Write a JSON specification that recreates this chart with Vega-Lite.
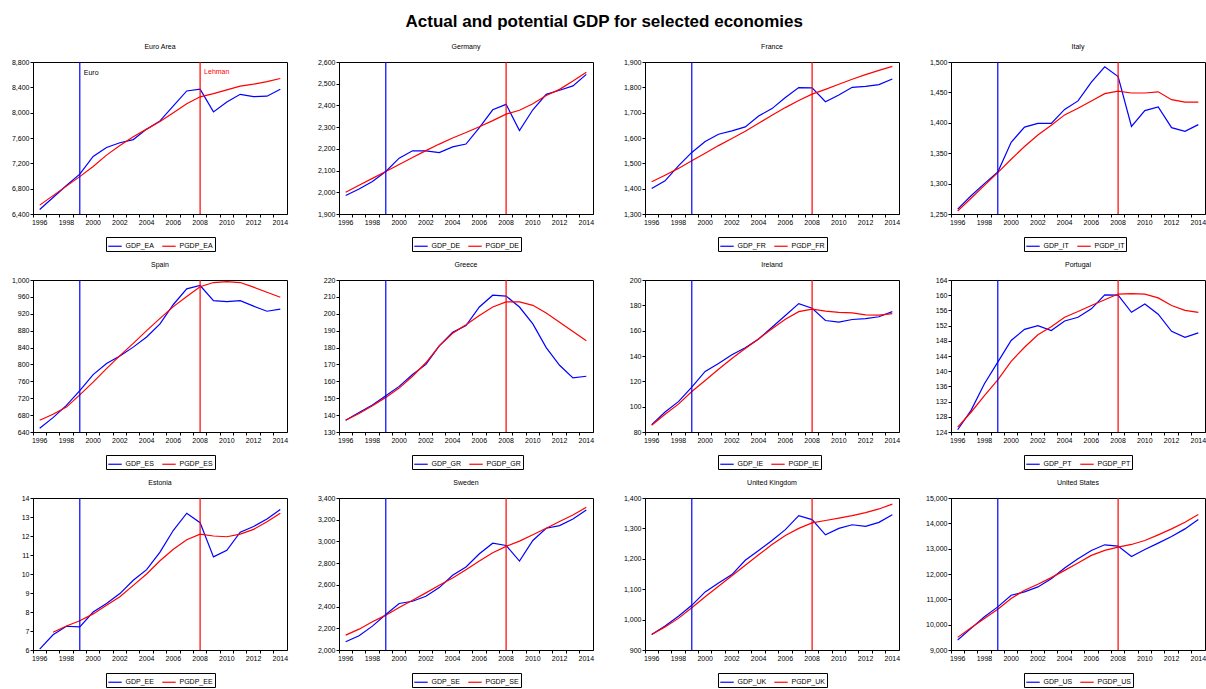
{
"$schema": "https://vega.github.io/schema/vega-lite/v6.json",
"padding": {"left": 2, "top": 12, "right": 0, "bottom": 0},
"title": {"text": "Actual and potential GDP for selected economies", "fontSize": 17, "fontWeight": "bold", "font": "Liberation Sans", "anchor": "middle", "offset": 12, "color": "#000000"},
"data": {"values": [
{"year":1996,"GDP_EA":6470,"PGDP_EA":6540,"GDP_DE":1985,"PGDP_DE":2000,"GDP_FR":1401,"PGDP_FR":1427,"GDP_IT":1258,"PGDP_IT":1255,"GDP_ES":649,"PGDP_ES":668,"GDP_GR":137,"PGDP_GR":137,"GDP_IE":85.8,"PGDP_IE":85.3,"GDP_PT":124.6,"PGDP_PT":125.3,"GDP_EE":6.05,"PGDP_EE":null,"GDP_SE":2076,"PGDP_SE":2137,"GDP_UK":951,"PGDP_UK":951,"GDP_US":9393,"PGDP_US":9498},
{"year":1997,"GDP_EA":6660,"PGDP_EA":6690,"GDP_DE":2015,"PGDP_DE":2032,"GDP_FR":1431,"PGDP_FR":1453,"GDP_IT":1280,"PGDP_IT":1276,"GDP_ES":674,"PGDP_ES":682,"GDP_GR":141.5,"PGDP_GR":141,"GDP_IE":95.8,"PGDP_IE":94,"GDP_PT":129.7,"PGDP_PT":129.2,"GDP_EE":6.8,"PGDP_EE":6.93,"GDP_SE":2131,"PGDP_SE":2192,"GDP_UK":979,"PGDP_UK":976,"GDP_US":9852,"PGDP_US":9878},
{"year":1998,"GDP_EA":6850,"PGDP_EA":6840,"GDP_DE":2050,"PGDP_DE":2064,"GDP_FR":1490,"PGDP_FR":1480,"GDP_IT":1300,"PGDP_IT":1297,"GDP_ES":703,"PGDP_ES":699,"GDP_GR":146,"PGDP_GR":145.5,"GDP_IE":104,"PGDP_IE":102,"GDP_PT":136.7,"PGDP_PT":133.6,"GDP_EE":7.25,"PGDP_EE":7.26,"GDP_SE":2220,"PGDP_SE":2260,"GDP_UK":1011,"PGDP_UK":1004,"GDP_US":10310,"PGDP_US":10245},
{"year":1999,"GDP_EA":7030,"PGDP_EA":6990,"GDP_DE":2096,"PGDP_DE":2096,"GDP_FR":1543,"PGDP_FR":1510,"GDP_IT":1319,"PGDP_IT":1318,"GDP_ES":738,"PGDP_ES":728,"GDP_GR":151.5,"PGDP_GR":150.5,"GDP_IE":115.5,"PGDP_IE":112,"GDP_PT":142.4,"PGDP_PT":137.7,"GDP_EE":7.22,"PGDP_EE":7.54,"GDP_SE":2327,"PGDP_SE":2321,"GDP_UK":1047,"PGDP_UK":1039,"GDP_US":10703,"PGDP_US":10611},
{"year":2000,"GDP_EA":7308,"PGDP_EA":7150,"GDP_DE":2157,"PGDP_DE":2128,"GDP_FR":1586,"PGDP_FR":1540,"GDP_IT":1368,"PGDP_IT":1340,"GDP_ES":776,"PGDP_ES":758,"GDP_GR":157,"PGDP_GR":156,"GDP_IE":127.8,"PGDP_IE":120.7,"GDP_PT":148.1,"PGDP_PT":142.6,"GDP_EE":8.0,"PGDP_EE":7.9,"GDP_SE":2428,"PGDP_SE":2391,"GDP_UK":1091,"PGDP_UK":1075,"GDP_US":11162,"PGDP_US":11030},
{"year":2001,"GDP_EA":7450,"PGDP_EA":7330,"GDP_DE":2191,"PGDP_DE":2160,"GDP_FR":1615,"PGDP_FR":1570,"GDP_IT":1393,"PGDP_IT":1361,"GDP_ES":802,"PGDP_ES":790,"GDP_GR":164,"PGDP_GR":163,"GDP_IE":134,"PGDP_IE":129.5,"GDP_PT":151,"PGDP_PT":146.3,"GDP_EE":8.45,"PGDP_EE":8.35,"GDP_SE":2449,"PGDP_SE":2458,"GDP_UK":1120,"PGDP_UK":1110,"GDP_US":11293,"PGDP_US":11358},
{"year":2002,"GDP_EA":7525,"PGDP_EA":7480,"GDP_DE":2191,"PGDP_DE":2192,"GDP_FR":1628,"PGDP_FR":1598,"GDP_IT":1399,"PGDP_IT":1380,"GDP_ES":820,"PGDP_ES":821,"GDP_GR":170,"PGDP_GR":171,"GDP_IE":141,"PGDP_IE":138,"GDP_PT":152,"PGDP_PT":149.6,"GDP_EE":8.97,"PGDP_EE":8.8,"GDP_SE":2495,"PGDP_SE":2526,"GDP_UK":1148,"PGDP_UK":1144,"GDP_US":11490,"PGDP_US":11594},
{"year":2003,"GDP_EA":7575,"PGDP_EA":7620,"GDP_DE":2183,"PGDP_DE":2222,"GDP_FR":1644,"PGDP_FR":1627,"GDP_IT":1399,"PGDP_IT":1396,"GDP_ES":841,"PGDP_ES":850,"GDP_GR":181,"PGDP_GR":181,"GDP_IE":146.5,"PGDP_IE":146,"GDP_PT":150.7,"PGDP_PT":151.7,"GDP_EE":9.67,"PGDP_EE":9.4,"GDP_SE":2575,"PGDP_SE":2596,"GDP_UK":1195,"PGDP_UK":1179,"GDP_US":11817,"PGDP_US":11856},
{"year":2004,"GDP_EA":7740,"PGDP_EA":7740,"GDP_DE":2209,"PGDP_DE":2250,"GDP_FR":1687,"PGDP_FR":1658,"GDP_IT":1422,"PGDP_IT":1413,"GDP_ES":865,"PGDP_ES":880,"GDP_GR":189,"PGDP_GR":188.5,"GDP_IE":153.5,"PGDP_IE":153.5,"GDP_PT":153.2,"PGDP_PT":154.2,"GDP_EE":10.23,"PGDP_EE":10.0,"GDP_SE":2688,"PGDP_SE":2663,"GDP_UK":1227,"PGDP_UK":1213,"GDP_US":12236,"PGDP_US":12144},
{"year":2005,"GDP_EA":7870,"PGDP_EA":7860,"GDP_DE":2222,"PGDP_DE":2275,"GDP_FR":1716,"PGDP_FR":1690,"GDP_IT":1436,"PGDP_IT":1424,"GDP_ES":896,"PGDP_ES":909,"GDP_GR":193,"PGDP_GR":193.5,"GDP_IE":162.7,"PGDP_IE":161.5,"GDP_PT":154.2,"PGDP_PT":155.7,"GDP_EE":11.15,"PGDP_EE":10.7,"GDP_SE":2764,"PGDP_SE":2740,"GDP_UK":1260,"PGDP_UK":1247,"GDP_US":12603,"PGDP_US":12432},
{"year":2006,"GDP_EA":8106,"PGDP_EA":8000,"GDP_DE":2298,"PGDP_DE":2302,"GDP_FR":1760,"PGDP_FR":1720,"GDP_IT":1467,"PGDP_IT":1436,"GDP_ES":942,"PGDP_ES":937,"GDP_GR":204,"PGDP_GR":199,"GDP_IE":172,"PGDP_IE":169,"GDP_PT":156.4,"PGDP_PT":157.3,"GDP_EE":12.3,"PGDP_EE":11.3,"GDP_SE":2886,"PGDP_SE":2819,"GDP_UK":1296,"PGDP_UK":1277,"GDP_US":12930,"PGDP_US":12734},
{"year":2007,"GDP_EA":8343,"PGDP_EA":8140,"GDP_DE":2380,"PGDP_DE":2330,"GDP_FR":1799,"PGDP_FR":1748,"GDP_IT":1492,"PGDP_IT":1448,"GDP_ES":979,"PGDP_ES":961,"GDP_GR":211,"PGDP_GR":204,"GDP_IE":181.4,"PGDP_IE":175,"GDP_PT":160.1,"PGDP_PT":158.8,"GDP_EE":13.2,"PGDP_EE":11.8,"GDP_SE":2984,"PGDP_SE":2896,"GDP_UK":1342,"PGDP_UK":1300,"GDP_US":13153,"PGDP_US":12930},
{"year":2008,"GDP_EA":8370,"PGDP_EA":8250,"GDP_DE":2405,"PGDP_DE":2360,"GDP_FR":1798,"PGDP_FR":1773,"GDP_IT":1476,"PGDP_IT":1452,"GDP_ES":987,"PGDP_ES":984,"GDP_GR":210.5,"PGDP_GR":207,"GDP_IE":177.7,"PGDP_IE":177,"GDP_PT":160,"PGDP_PT":160.3,"GDP_EE":12.7,"PGDP_EE":12.1,"GDP_SE":2963,"PGDP_SE":2954,"GDP_UK":1329,"PGDP_UK":1318,"GDP_US":13100,"PGDP_US":13061},
{"year":2009,"GDP_EA":8012,"PGDP_EA":8300,"GDP_DE":2284,"PGDP_DE":2378,"GDP_FR":1743,"PGDP_FR":1792,"GDP_IT":1394,"PGDP_IT":1449,"GDP_ES":951,"PGDP_ES":994,"GDP_GR":204,"PGDP_GR":207,"GDP_IE":168,"PGDP_IE":175.5,"GDP_PT":155.5,"PGDP_PT":160.4,"GDP_EE":10.9,"PGDP_EE":12.0,"GDP_SE":2819,"PGDP_SE":3003,"GDP_UK":1279,"PGDP_UK":1326,"GDP_US":12694,"PGDP_US":13166},
{"year":2010,"GDP_EA":8170,"PGDP_EA":8360,"GDP_DE":2380,"PGDP_DE":2408,"GDP_FR":1770,"PGDP_FR":1812,"GDP_IT":1420,"PGDP_IT":1449,"GDP_ES":949,"PGDP_ES":996,"GDP_GR":194,"PGDP_GR":205,"GDP_IE":166.7,"PGDP_IE":174.5,"GDP_PT":157.7,"PGDP_PT":160.3,"GDP_EE":11.25,"PGDP_EE":11.96,"GDP_SE":3009,"PGDP_SE":3061,"GDP_UK":1300,"PGDP_UK":1334,"GDP_US":12970,"PGDP_US":13323},
{"year":2011,"GDP_EA":8290,"PGDP_EA":8420,"GDP_DE":2451,"PGDP_DE":2446,"GDP_FR":1800,"PGDP_FR":1832,"GDP_IT":1426,"PGDP_IT":1451,"GDP_ES":951,"PGDP_ES":994,"GDP_GR":180,"PGDP_GR":200.5,"GDP_IE":168.8,"PGDP_IE":174,"GDP_PT":155,"PGDP_PT":159.3,"GDP_EE":12.2,"PGDP_EE":12.1,"GDP_SE":3122,"PGDP_SE":3122,"GDP_UK":1312,"PGDP_UK":1342,"GDP_US":13218,"PGDP_US":13546},
{"year":2012,"GDP_EA":8253,"PGDP_EA":8450,"GDP_DE":2470,"PGDP_DE":2474,"GDP_FR":1804,"PGDP_FR":1850,"GDP_IT":1392,"PGDP_IT":1438,"GDP_ES":938,"PGDP_ES":983,"GDP_GR":169.5,"PGDP_GR":195,"GDP_IE":169.5,"PGDP_IE":172.5,"GDP_PT":150.5,"PGDP_PT":157.3,"GDP_EE":12.5,"PGDP_EE":12.35,"GDP_SE":3146,"PGDP_SE":3183,"GDP_UK":1307,"PGDP_UK":1352,"GDP_US":13480,"PGDP_US":13781},
{"year":2013,"GDP_EA":8260,"PGDP_EA":8490,"GDP_DE":2490,"PGDP_DE":2512,"GDP_FR":1811,"PGDP_FR":1867,"GDP_IT":1386,"PGDP_IT":1434,"GDP_ES":926,"PGDP_ES":971,"GDP_GR":162,"PGDP_GR":189.5,"GDP_IE":171,"PGDP_IE":172.3,"GDP_PT":148.9,"PGDP_PT":156,"GDP_EE":12.9,"PGDP_EE":12.75,"GDP_SE":3207,"PGDP_SE":3244,"GDP_UK":1320,"PGDP_UK":1364,"GDP_US":13781,"PGDP_US":14043},
{"year":2014,"GDP_EA":8370,"PGDP_EA":8540,"GDP_DE":2543,"PGDP_DE":2553,"GDP_FR":1833,"PGDP_FR":1883,"GDP_IT":1397,"PGDP_IT":1434,"GDP_ES":931,"PGDP_ES":959,"GDP_GR":163,"PGDP_GR":184,"GDP_IE":175,"PGDP_IE":173.5,"GDP_PT":150.1,"PGDP_PT":155.5,"GDP_EE":13.4,"PGDP_EE":13.2,"GDP_SE":3290,"PGDP_SE":3314,"GDP_UK":1345,"PGDP_UK":1380,"GDP_US":14148,"PGDP_US":14345}
]},
"columns": 4,
"spacing": {"row": 8, "column": 19},
"resolve": {"scale": {"color": "independent"}, "legend": {"color": "independent"}},
"concat": [
{"title": "Euro Area", "width": 254, "height": 152,
 "encoding": {"x": {"field": "year", "type": "ordinal", "title": null, "scale": {"type": "band", "paddingInner": 0, "paddingOuter": 0}}},
 "layer": [
  {"transform": [{"fold": ["GDP_EA", "PGDP_EA"], "as": ["series", "value"]}], "mark": "line",
   "encoding": {"y": {"field": "value", "type": "quantitative", "title": null, "scale": {"domain": [6400, 8800], "zero": false, "nice": false}, "axis": {"format": ",.0f", "values": [6400, 6800, 7200, 7600, 8000, 8400, 8800]}},
    "color": {"field": "series", "type": "nominal", "title": null, "scale": {"domain": ["GDP_EA", "PGDP_EA"], "range": ["#0000ff", "#ff0000"]}}}},
  {"data": {"values": [{"year": 1999}, {"year": 2008}]}, "mark": "rule",
   "encoding": {"color": {"condition": {"test": "datum.year == 1999", "value": "#0000ff"}, "value": "#ff0000"}}},
  {"data": {"values": [{"year": 1999, "t": "Euro", "value": 8630}, {"year": 2008, "t": "Lehman", "value": 8650}]}, "mark": {"type": "text", "align": "left", "dx": 4, "fontSize": 7, "font": "Liberation Sans"},
   "encoding": {"y": {"field": "value", "type": "quantitative", "title": null, "axis": {"format": ",.0f", "values": [6400, 6800, 7200, 7600, 8000, 8400, 8800]}}, "text": {"field": "t"}, "color": {"condition": {"test": "datum.t == 'Lehman'", "value": "#ff0000"}, "value": "#000000"}}}
 ]},
{"title": "Germany", "width": 254, "height": 152,
 "encoding": {"x": {"field": "year", "type": "ordinal", "title": null, "scale": {"type": "band", "paddingInner": 0, "paddingOuter": 0}}},
 "layer": [
  {"transform": [{"fold": ["GDP_DE", "PGDP_DE"], "as": ["series", "value"]}], "mark": "line",
   "encoding": {"y": {"field": "value", "type": "quantitative", "title": null, "scale": {"domain": [1900, 2600], "zero": false, "nice": false}, "axis": {"format": ",.0f", "values": [1900, 2000, 2100, 2200, 2300, 2400, 2500, 2600]}},
    "color": {"field": "series", "type": "nominal", "title": null, "scale": {"domain": ["GDP_DE", "PGDP_DE"], "range": ["#0000ff", "#ff0000"]}}}},
  {"data": {"values": [{"year": 1999}, {"year": 2008}]}, "mark": "rule",
   "encoding": {"color": {"condition": {"test": "datum.year == 1999", "value": "#0000ff"}, "value": "#ff0000"}}}
 ]},
{"title": "France", "width": 254, "height": 152,
 "encoding": {"x": {"field": "year", "type": "ordinal", "title": null, "scale": {"type": "band", "paddingInner": 0, "paddingOuter": 0}}},
 "layer": [
  {"transform": [{"fold": ["GDP_FR", "PGDP_FR"], "as": ["series", "value"]}], "mark": "line",
   "encoding": {"y": {"field": "value", "type": "quantitative", "title": null, "scale": {"domain": [1300, 1900], "zero": false, "nice": false}, "axis": {"format": ",.0f", "values": [1300, 1400, 1500, 1600, 1700, 1800, 1900]}},
    "color": {"field": "series", "type": "nominal", "title": null, "scale": {"domain": ["GDP_FR", "PGDP_FR"], "range": ["#0000ff", "#ff0000"]}}}},
  {"data": {"values": [{"year": 1999}, {"year": 2008}]}, "mark": "rule",
   "encoding": {"color": {"condition": {"test": "datum.year == 1999", "value": "#0000ff"}, "value": "#ff0000"}}}
 ]},
{"title": "Italy", "width": 254, "height": 152,
 "encoding": {"x": {"field": "year", "type": "ordinal", "title": null, "scale": {"type": "band", "paddingInner": 0, "paddingOuter": 0}}},
 "layer": [
  {"transform": [{"fold": ["GDP_IT", "PGDP_IT"], "as": ["series", "value"]}], "mark": "line",
   "encoding": {"y": {"field": "value", "type": "quantitative", "title": null, "scale": {"domain": [1250, 1500], "zero": false, "nice": false}, "axis": {"format": ",.0f", "values": [1250, 1300, 1350, 1400, 1450, 1500]}},
    "color": {"field": "series", "type": "nominal", "title": null, "scale": {"domain": ["GDP_IT", "PGDP_IT"], "range": ["#0000ff", "#ff0000"]}}}},
  {"data": {"values": [{"year": 1999}, {"year": 2008}]}, "mark": "rule",
   "encoding": {"color": {"condition": {"test": "datum.year == 1999", "value": "#0000ff"}, "value": "#ff0000"}}}
 ]},
{"title": "Spain", "width": 254, "height": 152,
 "encoding": {"x": {"field": "year", "type": "ordinal", "title": null, "scale": {"type": "band", "paddingInner": 0, "paddingOuter": 0}}},
 "layer": [
  {"transform": [{"fold": ["GDP_ES", "PGDP_ES"], "as": ["series", "value"]}], "mark": "line",
   "encoding": {"y": {"field": "value", "type": "quantitative", "title": null, "scale": {"domain": [640, 1000], "zero": false, "nice": false}, "axis": {"format": ",.0f", "values": [640, 680, 720, 760, 800, 840, 880, 920, 960, 1000]}},
    "color": {"field": "series", "type": "nominal", "title": null, "scale": {"domain": ["GDP_ES", "PGDP_ES"], "range": ["#0000ff", "#ff0000"]}}}},
  {"data": {"values": [{"year": 1999}, {"year": 2008}]}, "mark": "rule",
   "encoding": {"color": {"condition": {"test": "datum.year == 1999", "value": "#0000ff"}, "value": "#ff0000"}}}
 ]},
{"title": "Greece", "width": 254, "height": 152,
 "encoding": {"x": {"field": "year", "type": "ordinal", "title": null, "scale": {"type": "band", "paddingInner": 0, "paddingOuter": 0}}},
 "layer": [
  {"transform": [{"fold": ["GDP_GR", "PGDP_GR"], "as": ["series", "value"]}], "mark": "line",
   "encoding": {"y": {"field": "value", "type": "quantitative", "title": null, "scale": {"domain": [130, 220], "zero": false, "nice": false}, "axis": {"format": ",.0f", "values": [130, 140, 150, 160, 170, 180, 190, 200, 210, 220]}},
    "color": {"field": "series", "type": "nominal", "title": null, "scale": {"domain": ["GDP_GR", "PGDP_GR"], "range": ["#0000ff", "#ff0000"]}}}},
  {"data": {"values": [{"year": 1999}, {"year": 2008}]}, "mark": "rule",
   "encoding": {"color": {"condition": {"test": "datum.year == 1999", "value": "#0000ff"}, "value": "#ff0000"}}}
 ]},
{"title": "Ireland", "width": 254, "height": 152,
 "encoding": {"x": {"field": "year", "type": "ordinal", "title": null, "scale": {"type": "band", "paddingInner": 0, "paddingOuter": 0}}},
 "layer": [
  {"transform": [{"fold": ["GDP_IE", "PGDP_IE"], "as": ["series", "value"]}], "mark": "line",
   "encoding": {"y": {"field": "value", "type": "quantitative", "title": null, "scale": {"domain": [80, 200], "zero": false, "nice": false}, "axis": {"format": ",.0f", "values": [80, 100, 120, 140, 160, 180, 200]}},
    "color": {"field": "series", "type": "nominal", "title": null, "scale": {"domain": ["GDP_IE", "PGDP_IE"], "range": ["#0000ff", "#ff0000"]}}}},
  {"data": {"values": [{"year": 1999}, {"year": 2008}]}, "mark": "rule",
   "encoding": {"color": {"condition": {"test": "datum.year == 1999", "value": "#0000ff"}, "value": "#ff0000"}}}
 ]},
{"title": "Portugal", "width": 254, "height": 152,
 "encoding": {"x": {"field": "year", "type": "ordinal", "title": null, "scale": {"type": "band", "paddingInner": 0, "paddingOuter": 0}}},
 "layer": [
  {"transform": [{"fold": ["GDP_PT", "PGDP_PT"], "as": ["series", "value"]}], "mark": "line",
   "encoding": {"y": {"field": "value", "type": "quantitative", "title": null, "scale": {"domain": [124, 164], "zero": false, "nice": false}, "axis": {"format": ",.0f", "values": [124, 128, 132, 136, 140, 144, 148, 152, 156, 160, 164]}},
    "color": {"field": "series", "type": "nominal", "title": null, "scale": {"domain": ["GDP_PT", "PGDP_PT"], "range": ["#0000ff", "#ff0000"]}}}},
  {"data": {"values": [{"year": 1999}, {"year": 2008}]}, "mark": "rule",
   "encoding": {"color": {"condition": {"test": "datum.year == 1999", "value": "#0000ff"}, "value": "#ff0000"}}}
 ]},
{"title": "Estonia", "width": 254, "height": 152,
 "encoding": {"x": {"field": "year", "type": "ordinal", "title": null, "scale": {"type": "band", "paddingInner": 0, "paddingOuter": 0}}},
 "layer": [
  {"transform": [{"fold": ["GDP_EE", "PGDP_EE"], "as": ["series", "value"]}], "mark": "line",
   "encoding": {"y": {"field": "value", "type": "quantitative", "title": null, "scale": {"domain": [6, 14], "zero": false, "nice": false}, "axis": {"format": ",.0f", "values": [6, 7, 8, 9, 10, 11, 12, 13, 14]}},
    "color": {"field": "series", "type": "nominal", "title": null, "scale": {"domain": ["GDP_EE", "PGDP_EE"], "range": ["#0000ff", "#ff0000"]}}}},
  {"data": {"values": [{"year": 1999}, {"year": 2008}]}, "mark": "rule",
   "encoding": {"color": {"condition": {"test": "datum.year == 1999", "value": "#0000ff"}, "value": "#ff0000"}}}
 ]},
{"title": "Sweden", "width": 254, "height": 152,
 "encoding": {"x": {"field": "year", "type": "ordinal", "title": null, "scale": {"type": "band", "paddingInner": 0, "paddingOuter": 0}}},
 "layer": [
  {"transform": [{"fold": ["GDP_SE", "PGDP_SE"], "as": ["series", "value"]}], "mark": "line",
   "encoding": {"y": {"field": "value", "type": "quantitative", "title": null, "scale": {"domain": [2000, 3400], "zero": false, "nice": false}, "axis": {"format": ",.0f", "values": [2000, 2200, 2400, 2600, 2800, 3000, 3200, 3400]}},
    "color": {"field": "series", "type": "nominal", "title": null, "scale": {"domain": ["GDP_SE", "PGDP_SE"], "range": ["#0000ff", "#ff0000"]}}}},
  {"data": {"values": [{"year": 1999}, {"year": 2008}]}, "mark": "rule",
   "encoding": {"color": {"condition": {"test": "datum.year == 1999", "value": "#0000ff"}, "value": "#ff0000"}}}
 ]},
{"title": "United Kingdom", "width": 254, "height": 152,
 "encoding": {"x": {"field": "year", "type": "ordinal", "title": null, "scale": {"type": "band", "paddingInner": 0, "paddingOuter": 0}}},
 "layer": [
  {"transform": [{"fold": ["GDP_UK", "PGDP_UK"], "as": ["series", "value"]}], "mark": "line",
   "encoding": {"y": {"field": "value", "type": "quantitative", "title": null, "scale": {"domain": [900, 1400], "zero": false, "nice": false}, "axis": {"format": ",.0f", "values": [900, 1000, 1100, 1200, 1300, 1400]}},
    "color": {"field": "series", "type": "nominal", "title": null, "scale": {"domain": ["GDP_UK", "PGDP_UK"], "range": ["#0000ff", "#ff0000"]}}}},
  {"data": {"values": [{"year": 1999}, {"year": 2008}]}, "mark": "rule",
   "encoding": {"color": {"condition": {"test": "datum.year == 1999", "value": "#0000ff"}, "value": "#ff0000"}}}
 ]},
{"title": "United States", "width": 254, "height": 152,
 "encoding": {"x": {"field": "year", "type": "ordinal", "title": null, "scale": {"type": "band", "paddingInner": 0, "paddingOuter": 0}}},
 "layer": [
  {"transform": [{"fold": ["GDP_US", "PGDP_US"], "as": ["series", "value"]}], "mark": "line",
   "encoding": {"y": {"field": "value", "type": "quantitative", "title": null, "scale": {"domain": [9000, 15000], "zero": false, "nice": false}, "axis": {"format": ",.0f", "values": [9000, 10000, 11000, 12000, 13000, 14000, 15000]}},
    "color": {"field": "series", "type": "nominal", "title": null, "scale": {"domain": ["GDP_US", "PGDP_US"], "range": ["#0000ff", "#ff0000"]}}}},
  {"data": {"values": [{"year": 1999}, {"year": 2008}]}, "mark": "rule",
   "encoding": {"color": {"condition": {"test": "datum.year == 1999", "value": "#0000ff"}, "value": "#ff0000"}}}
 ]}
],
"config": {
 "font": "Liberation Sans",
 "view": {"stroke": "#000000", "strokeWidth": 1},
 "title": {"fontSize": 7, "fontWeight": "normal", "font": "Liberation Sans", "color": "#000000", "offset": 8},
 "line": {"strokeWidth": 1.2},
 "rule": {"strokeWidth": 1.2},
 "axis": {"domainColor": "#000000", "tickColor": "#000000", "labelColor": "#000000", "labelFont": "Liberation Sans", "labelFontSize": 7, "grid": false, "tickSize": 3, "labelPadding": 1},
 "axisX": {"bandPosition": 0, "labelAngle": 0, "labelOverlap": false, "labelFlush": false, "labelExpr": "datum.value % 2 == 0 ? datum.label : ''"},
 "axisY": {"minExtent": 30, "maxExtent": 30, "labelOverlap": false},
 "legend": {"orient": "none", "legendX": 73, "legendY": 175, "direction": "horizontal", "columns": 2, "strokeColor": "#000000", "padding": 1.5, "symbolType": "stroke", "symbolSize": 180, "symbolStrokeWidth": 1.5, "labelFontSize": 7, "labelFont": "Liberation Sans", "labelColor": "#000000", "columnPadding": 5, "labelOffset": 3, "title": null}
}
}
